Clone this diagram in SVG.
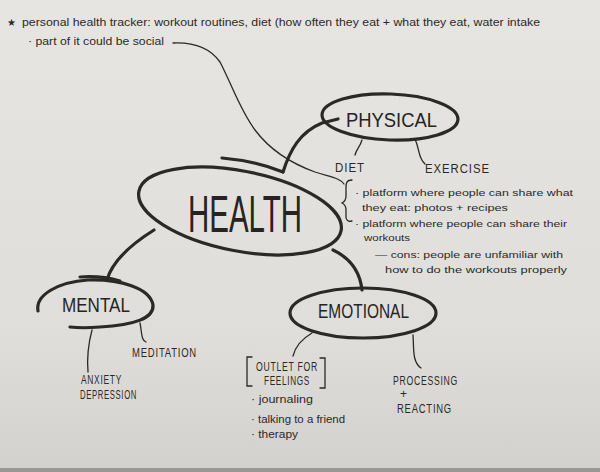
<svg xmlns="http://www.w3.org/2000/svg" width="600" height="472" viewBox="0 0 600 472">
<defs>
<linearGradient id="bg" x1="0" y1="0" x2="0" y2="1">
<stop offset="0" stop-color="#e7e5e2"/>
<stop offset="0.7" stop-color="#e0dedb"/>
<stop offset="1" stop-color="#d3d1ce"/>
</linearGradient>
<style>
.thick{fill:none;stroke:#2b2927;stroke-width:3.2;stroke-linecap:round;stroke-linejoin:round}
.thin{fill:none;stroke:#2b2927;stroke-width:1.3;stroke-linecap:round}
.big{font-family:"Liberation Sans",sans-serif;fill:#262422}
.cap{font-family:"Liberation Sans",sans-serif;fill:#2b2927;font-size:12px;letter-spacing:1px}
.note{font-family:"Liberation Sans",sans-serif;fill:#2b2927;font-size:10px}
.pn{font-size:9px}
</style>
</defs>
<rect width="600" height="472" fill="url(#bg)"/>
<rect y="468" width="600" height="4" fill="#9a9895"/>

<g id="notes-top">
<text class="note" x="7" y="26" font-size="10" font-family="DejaVu Sans,sans-serif">★</text>
<text class="note" x="22" y="26" textLength="518" lengthAdjust="spacingAndGlyphs">personal health tracker: workout routines, diet (how often they eat + what they eat, water intake</text>
<text class="note" x="28" y="45" textLength="136" lengthAdjust="spacingAndGlyphs">· part of it could be social</text>
</g>

<g id="connectors">
<path class="thin" d="M173,43 C195,42 210,48 220,62 C232,85 240,110 255,130 C270,150 290,163 315,172 C330,177 340,178 344,184"/>
<path class="thick" d="M283,172 C290,150 300,132 322,123 L338,119"/>
<path class="thick" d="M154,230 C130,245 112,262 107,280"/>
<path class="thick" d="M333,250 C350,258 360,272 362,290"/>
<path class="thin" d="M362,140 C360,147 356,150 355,155"/>
<path class="thin" d="M415,139 C420,150 418,158 425,164"/>
<path class="thin" d="M92,330 C88,345 87,360 88,372"/>
<path class="thin" d="M140,323 C142,333 141,340 146,342"/>
<path class="thin" d="M312,333 C300,340 295,348 293,356"/>
<path class="thin" d="M413,335 C414,348 412,362 421,368"/>
</g>

<g id="health">
<ellipse class="thick" cx="240" cy="211" rx="103" ry="40" transform="rotate(11 240 211)"/>
<path class="thick" d="M222,158 C245,160 268,166 283,172"/>
<text class="big" x="188" y="232" font-size="52" textLength="114" lengthAdjust="spacingAndGlyphs">HEALTH</text>
</g>

<g id="physical">
<ellipse class="thick" cx="390" cy="117" rx="68" ry="23" transform="rotate(2 390 117)"/>
<text class="big" x="346" y="127" font-size="21" textLength="91" lengthAdjust="spacingAndGlyphs">PHYSICAL</text>
</g>

<g id="diet">
<text class="cap" x="335" y="172" textLength="30" lengthAdjust="spacingAndGlyphs">DIET</text>
</g>
<g id="exercise">
<text class="cap" x="425" y="173" textLength="65" lengthAdjust="spacingAndGlyphs">EXERCISE</text>
</g>

<g id="physical-notes">
<path class="thin" d="M352,180 C346,180 346,184 346,188 L346,196 C346,200 344,202 342,203 C344,204 346,206 346,210 L346,217 C346,220 348,222 352,221"/>
<text class="note pn" x="355" y="196" textLength="218" lengthAdjust="spacingAndGlyphs">· platform where people can share what</text>
<text class="note pn" x="362" y="211" textLength="146" lengthAdjust="spacingAndGlyphs">they eat: photos + recipes</text>
<text class="note pn" x="355" y="227" textLength="212" lengthAdjust="spacingAndGlyphs">· platform where people can share their</text>
<text class="note pn" x="364" y="241" textLength="46" lengthAdjust="spacingAndGlyphs">workouts</text>
<text class="note pn" x="375" y="258" textLength="188" lengthAdjust="spacingAndGlyphs">— cons: people are unfamiliar with</text>
<text class="note pn" x="385" y="273" textLength="182" lengthAdjust="spacingAndGlyphs">how to do the workouts properly</text>
</g>

<g id="mental">
<path class="thick" d="M38,311 C35,295 58,282 88,280 C120,279 150,288 153,305 C154,318 135,325 100,327 C88,328 78,328 70,327"/>
<path class="thick" d="M80,277 C95,276 110,278 120,281"/>
<text class="big" x="62" y="312" font-size="20" textLength="68" lengthAdjust="spacingAndGlyphs">MENTAL</text>
</g>
<g id="meditation">
<text class="cap" x="132" y="357" font-size="11" textLength="65" lengthAdjust="spacingAndGlyphs">MEDITATION</text>
</g>
<g id="anxiety">
<text class="cap" x="81" y="384" font-size="11" textLength="41" lengthAdjust="spacingAndGlyphs">ANXIETY</text>
<text class="cap" x="80" y="399" font-size="11" textLength="57" lengthAdjust="spacingAndGlyphs">DEPRESSION</text>
</g>

<g id="emotional">
<ellipse class="thick" cx="363" cy="313" rx="73" ry="25"/>
<text class="big" x="318" y="318" font-size="20" textLength="91" lengthAdjust="spacingAndGlyphs">EMOTIONAL</text>
</g>

<g id="outlet">
<path class="thin" d="M252,357 L247,357 L247,386 L252,386"/>
<path class="thin" d="M320,358 L325,358 L325,388 L320,388"/>
<text class="cap" x="256" y="371" font-size="11" textLength="62" lengthAdjust="spacingAndGlyphs">OUTLET FOR</text>
<text class="cap" x="264" y="385" font-size="11" textLength="46" lengthAdjust="spacingAndGlyphs">FEELINGS</text>
<text class="note" x="251" y="403" font-size="11" textLength="62" lengthAdjust="spacingAndGlyphs">· journaling</text>
<text class="note" x="251" y="423" font-size="11" textLength="94" lengthAdjust="spacingAndGlyphs">· talking to a friend</text>
<text class="note" x="251" y="438" font-size="11" textLength="47" lengthAdjust="spacingAndGlyphs">· therapy</text>
</g>

<g id="processing">
<text class="cap" x="393" y="385" font-size="11" textLength="65" lengthAdjust="spacingAndGlyphs">PROCESSING</text>
<text class="cap" x="400" y="398" font-size="9">+</text>
<text class="cap" x="397" y="413" font-size="11" textLength="55" lengthAdjust="spacingAndGlyphs">REACTING</text>
</g>
</svg>
